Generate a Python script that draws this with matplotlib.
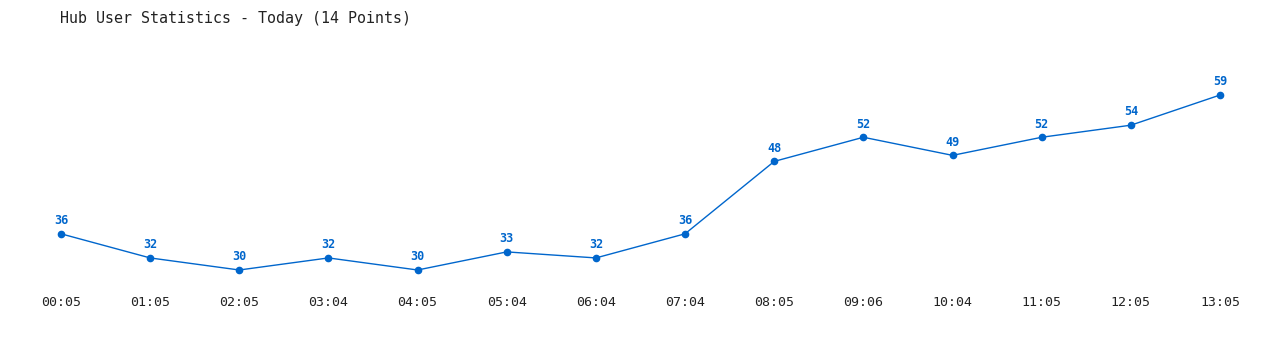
import matplotlib.pyplot as plt

# hub users per sample time, today
times = ['00:05', '01:05', '02:05', '03:04', '04:05', '05:04', '06:04',
         '07:04', '08:05', '09:06', '10:04', '11:05', '12:05', '13:05']
users = [36, 32, 30, 32, 30, 33, 32, 36, 48, 52, 49, 52, 54, 59]

LINE = '#0066cc'
TEXT = '#222222'


def draw_chart():
    fig = plt.figure(figsize=(12.8, 3.5), dpi=100)
    ax = fig.add_axes([0, 0, 1, 1])
    x = list(range(len(times)))

    ax.plot(x, users, color=LINE, linewidth=1, marker='o', markersize=4.5)
    for xi, v in zip(x, users):
        ax.annotate(str(v), (xi, v), xytext=(0, 9.5), textcoords='offset points',
                    ha='center', va='center', color=LINE, fontsize=8.5,
                    fontweight='bold', family='DejaVu Sans Mono')

    # map data to the reference pixel grid
    ax.set_xlim(-0.684, 13.673)
    ax.set_ylim(16.74, 74.75)
    ax.axis('off')

    for xi, t in zip(x, times):
        ax.text(xi, 1 - 303 / 350, t, transform=ax.get_xaxis_transform(),
                ha='center', va='center', color=TEXT, fontsize=9.5,
                family='DejaVu Sans Mono')

    fig.text(60 / 1280, 1 - 18 / 350, 'Hub User Statistics - Today (14 Points)',
             ha='left', va='center', color=TEXT, fontsize=10.8,
             family='DejaVu Sans Mono')

    fig.savefig('out.png', dpi=100, facecolor='white')
    plt.close(fig)


if __name__ == '__main__':
    draw_chart()
